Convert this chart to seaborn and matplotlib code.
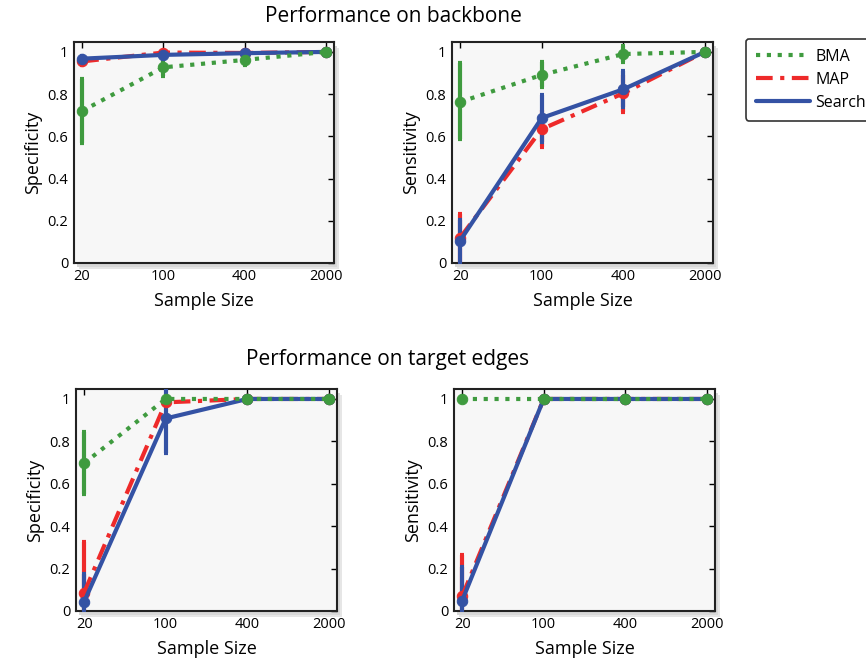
import numpy as np
import pandas as pd
import matplotlib
matplotlib.use("Agg")
import matplotlib.pyplot as plt
from matplotlib.lines import Line2D
from matplotlib.ticker import FixedLocator, FuncFormatter
import seaborn as sns

sizes = ["20", "100", "400", "2000"]
methods = ["BMA", "MAP", "Search"]

# backbone specificity
bb_spec = {"BMA": [0.72, 0.927, 0.962, 1.0],
           "MAP": [0.955, 0.997, 0.995, 1.0],
           "Search": [0.968, 0.986, 0.994, 1.0]}
bb_spec_lo = {"BMA": [0.57, 0.886, 0.94, 1.0],
              "MAP": [0.94, 0.99, 0.99, 1.0],
              "Search": [0.955, 0.975, 0.99, 1.0]}
bb_spec_hi = {"BMA": [0.87, 0.97, 0.984, 1.0],
              "MAP": [0.97, 1.0, 1.0, 1.0],
              "Search": [0.98, 0.995, 0.998, 1.0]}

# backbone sensitivity
bb_sens = {"BMA": [0.763, 0.891, 0.99, 1.0],
           "MAP": [0.12, 0.634, 0.804, 1.0],
           "Search": [0.106, 0.687, 0.823, 1.0]}
bb_sens_lo = {"BMA": [0.587, 0.836, 0.954, 1.0],
              "MAP": [0.0, 0.55, 0.717, 1.0],
              "Search": [0.0, 0.575, 0.741, 1.0]}
bb_sens_hi = {"BMA": [0.946, 0.95, 1.03, 1.0],
              "MAP": [0.232, 0.725, 0.89, 1.0],
              "Search": [0.204, 0.796, 0.911, 1.0]}

# target edges specificity
te_spec = {"BMA": [0.697, 1.0, 1.0, 1.0],
           "MAP": [0.087, 0.984, 1.0, 1.0],
           "Search": [0.044, 0.908, 1.0, 1.0]}
te_spec_lo = {"BMA": [0.553, 0.99, 1.0, 1.0],
              "MAP": [0.0, 0.97, 1.0, 1.0],
              "Search": [0.0, 0.744, 1.0, 1.0]}
te_spec_hi = {"BMA": [0.842, 1.01, 1.0, 1.0],
              "MAP": [0.324, 1.0, 1.0, 1.0],
              "Search": [0.175, 1.07, 1.0, 1.0]}

# target edges sensitivity
te_sens = {"BMA": [1.0, 1.0, 1.0, 1.0],
           "MAP": [0.07, 1.0, 1.0, 1.0],
           "Search": [0.049, 1.0, 1.0, 1.0]}
te_sens_lo = {"BMA": [1.0, 1.0, 1.0, 1.0],
              "MAP": [0.0, 1.0, 1.0, 1.0],
              "Search": [0.0, 1.0, 1.0, 1.0]}
te_sens_hi = {"BMA": [1.0, 1.0, 1.0, 1.0],
              "MAP": [0.262, 1.0, 1.0, 1.0],
              "Search": [0.207, 1.0, 1.0, 1.0]}

colors = {"BMA": "#3f9b3f", "MAP": "#ee2a2a", "Search": "#3452a4"}
styles = {"BMA": (0, (1, 1.6)), "MAP": (0, (4, 1.8, 1, 1.8)), "Search": "-"}
draw_order = ["MAP", "Search", "BMA"]

sns.set_style("white")
plt.rcParams["font.family"] = ["Open Sans", "DejaVu Sans"]
plt.rcParams["text.color"] = "black"
plt.rcParams["axes.labelcolor"] = "black"

fig = plt.figure(figsize=(8.66, 6.70), dpi=100)
W, H = 866, 670


def box(l, t, r, b):
    return [l / W, 1 - b / H, (r - l) / W, (b - t) / H]


panels = [
    (box(74, 42, 334, 263), bb_spec, bb_spec_lo, bb_spec_hi, "Specificity"),
    (box(452, 42, 713, 263), bb_sens, bb_sens_lo, bb_sens_hi, "Sensitivity"),
    (box(76, 389, 337, 611), te_spec, te_spec_lo, te_spec_hi, "Specificity"),
    (box(454, 389, 715, 611), te_sens, te_sens_lo, te_sens_hi, "Sensitivity"),
]

for rect, vals, lo, hi, ylab in panels:
    # soft shadow behind the panel
    for k, c in enumerate(["#e6e6e6", "#d8d8d8"]):
        off = 5 - 2 * k
        fig.patches.append(plt.Rectangle((rect[0] + off / W, rect[1] - (off + 1) / H),
                                         rect[2], rect[3],
                                         transform=fig.transFigure,
                                         facecolor=c, edgecolor="none",
                                         zorder=-1))
    ax = fig.add_axes(rect, zorder=2)
    ax.set_facecolor("#f7f7f7")
    x = np.arange(len(sizes))
    for m in draw_order:
        df = pd.DataFrame({"x": x, "y": vals[m]})
        y = np.array(vals[m])
        err = [y - np.array(lo[m]), np.array(hi[m]) - y]
        ax.errorbar(x, y, yerr=err, fmt="none", ecolor=colors[m],
                    elinewidth=3, capsize=1.5, capthick=3, zorder=3)
        sns.lineplot(data=df, x="x", y="y", ax=ax, color=colors[m],
                     linewidth=3, marker="o", markersize=7.5,
                     markeredgecolor=colors[m], zorder=4)
        ax.lines[-1].set_linestyle(styles[m])
    ax.set_xlim(-0.1, 3.1)
    ax.set_ylim(0, 1.047)
    ax.set_xticks(x)
    ax.set_xticklabels(sizes)
    ax.yaxis.set_major_locator(FixedLocator([0, 0.2, 0.4, 0.6, 0.8, 1.0]))
    ax.yaxis.set_major_formatter(FuncFormatter(
        lambda v, p: "0" if v == 0 else ("1" if v == 1 else f"{v:.1f}")))
    ax.tick_params(direction="in", length=4, width=1, top=True, right=True,
                   labelsize=10.5, pad=4, colors="black")
    for s in ax.spines.values():
        s.set_color("#222222")
        s.set_linewidth(1.5)
    ax.set_xlabel("Sample Size", fontsize=13, labelpad=6)
    ax.set_ylabel(ylab, fontsize=13, labelpad=4)

fig.text(393 / W, 1 - 17 / H, "Performance on backbone", ha="center",
         va="center", fontsize=15)
fig.text(388 / W, 1 - 360 / H, "Performance on target edges", ha="center",
         va="center", fontsize=15)

handles = [Line2D([], [], color=colors[m], linewidth=3, linestyle=styles[m])
           for m in methods]
leg = fig.legend(handles, methods, loc="upper left",
                 bbox_to_anchor=(746 / W, 1 - 39 / H), fontsize=11.5,
                 frameon=True, fancybox=True, handlelength=3.4,
                 handletextpad=0.35, labelspacing=0.45, borderpad=0.6,
                 borderaxespad=0)
leg.get_frame().set_edgecolor("black")
leg.get_frame().set_linewidth(1.2)

fig.savefig("out.png", dpi=100, facecolor="white")
